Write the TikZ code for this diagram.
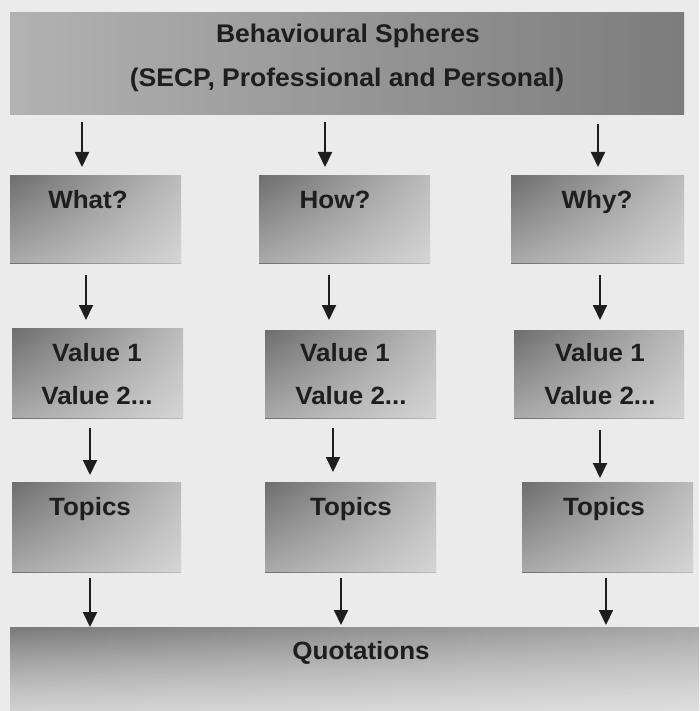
\documentclass[tikz,border=0pt]{standalone}
\usepackage{fontspec}
\setmainfont{Liberation Sans}[FakeStretch=1.04]
\usetikzlibrary{arrows.meta,fadings}
\definecolor{bg}{HTML}{EBEBEB}
\definecolor{ink}{HTML}{1E1E1E}
\definecolor{topL}{HTML}{B2B2B2}
\definecolor{topR}{HTML}{7C7C7C}
\definecolor{boxD}{HTML}{6E6E6E}
\definecolor{boxM}{HTML}{BCBCBC}
\definecolor{quoD}{HTML}{7A7A7A}
\definecolor{quoM}{HTML}{A8A8A8}
\definecolor{haze}{HTML}{F4F4F4}
\tikzset{
  lab/.style={font=\fontsize{25}{30}\selectfont\bfseries, text=ink, inner sep=0pt, anchor=base},
  toplab/.style={lab, font=\fontsize{25.5}{30}\selectfont\bfseries},
  topbox/.style={anchor=north west, inner sep=0pt, shading=axis, left color=topL, right color=topR},
  % left-to-right shading, lightened towards the bottom edge by a faded overlay
  cellbox/.style={anchor=north west, inner sep=0pt, minimum width=171pt, minimum height=88pt,
    shading=axis, left color=boxD, right color=boxM,
    postaction={fill=haze, fill opacity=0.45, path fading=north}},
  quobox/.style={cellbox, left color=quoD, right color=quoM,
    postaction={fill=haze, fill opacity=0.5, path fading=north}},
  arr/.style={draw=ink, line width=2pt, -{Triangle[width=14pt,length=15pt]}},
}
\begin{document}
\begin{tikzpicture}[x=1pt, y=1pt]
  \useasboundingbox (0,0) rectangle (699,-711);
  \fill[bg] (0,0) rectangle (699,-711);

  % header box
  \node[topbox, minimum width=674pt, minimum height=102pt] (top) at (10,-12) {};
  \node[toplab] (topa) at (348,-43) {Behavioural Spheres};
  \node[toplab] (topb) at (347,-87) {(SECP, Professional and Personal)};

  % question row
  \node[cellbox] (w1) at (10,-175) {};
  \node[cellbox] (w2) at (259,-175) {};
  \node[cellbox, minimum width=173pt] (w3) at (511,-175) {};
  \node[lab] (w1t) at (88,-208) {What?};
  \node[lab] (w2t) at (335,-208) {How?};
  \node[lab] (w3t) at (597,-208) {Why?};

  % value row
  \node[cellbox, minimum height=90pt] (v1) at (12,-328) {};
  \node[cellbox] (v2) at (265,-330) {};
  \node[cellbox, minimum width=170pt] (v3) at (514,-330) {};
  \node[lab] (v1a) at (97,-361) {Value 1};
  \node[lab] (v1b) at (97,-404) {Value 2...};
  \node[lab] (v2a) at (345,-361) {Value 1};
  \node[lab] (v2b) at (351,-404) {Value 2...};
  \node[lab] (v3a) at (600,-361) {Value 1};
  \node[lab] (v3b) at (600,-404) {Value 2...};

  % topic row
  \node[cellbox, minimum width=169pt, minimum height=90pt] (t1) at (12,-482) {};
  \node[cellbox, minimum height=90pt] (t2) at (265,-482) {};
  \node[cellbox, minimum height=90pt] (t3) at (522,-482) {};
  \node[lab] (t1t) at (90,-515) {Topics};
  \node[lab] (t2t) at (351,-515) {Topics};
  \node[lab] (t3t) at (604,-515) {Topics};

  % quotations band
  \node[quobox, minimum width=689pt, minimum height=84pt] (quot) at (10,-627) {};
  \node[lab] (quott) at (361,-659) {Quotations};

  % arrow columns
  \coordinate (a11) at (82,0);  \coordinate (a12) at (325,0); \coordinate (a13) at (598,0);
  \coordinate (a21) at (86,0);  \coordinate (a22) at (329,0); \coordinate (a23) at (600,0);
  \coordinate (a31) at (90,0);  \coordinate (a32) at (333,0); \coordinate (a33) at (600,0);
  \coordinate (a41) at (90,0);  \coordinate (a42) at (341,0); \coordinate (a43) at (606,0);

  \draw[arr, shorten <=8pt, shorten >=8pt] (top.south -| a11) -- (w1.north -| a11);
  \draw[arr, shorten <=8pt, shorten >=8pt] (top.south -| a12) -- (w2.north -| a12);
  \draw[arr, shorten <=10pt, shorten >=8pt] (top.south -| a13) -- (w3.north -| a13);

  \draw[arr, shorten <=12pt, shorten >=8pt] (w1.south -| a21) -- (v1.north -| a21);
  \draw[arr, shorten <=12pt, shorten >=10pt] (w2.south -| a22) -- (v2.north -| a22);
  \draw[arr, shorten <=12pt, shorten >=10pt] (w3.south -| a23) -- (v3.north -| a23);

  \draw[arr, shorten <=10pt, shorten >=7pt] (v1.south -| a31) -- (t1.north -| a31);
  \draw[arr, shorten <=10pt, shorten >=10pt] (v2.south -| a32) -- (t2.north -| a32);
  \draw[arr, shorten <=12pt, shorten >=4pt] (v3.south -| a33) -- (t3.north -| a33);

  \draw[arr, shorten <=6pt, shorten >=0pt] (t1.south -| a41) -- (quot.north -| a41);
  \draw[arr, shorten <=6pt, shorten >=2pt] (t2.south -| a42) -- (quot.north -| a42);
  \draw[arr, shorten <=6pt, shorten >=2pt] (t3.south -| a43) -- (quot.north -| a43);
\end{tikzpicture}
\end{document}
